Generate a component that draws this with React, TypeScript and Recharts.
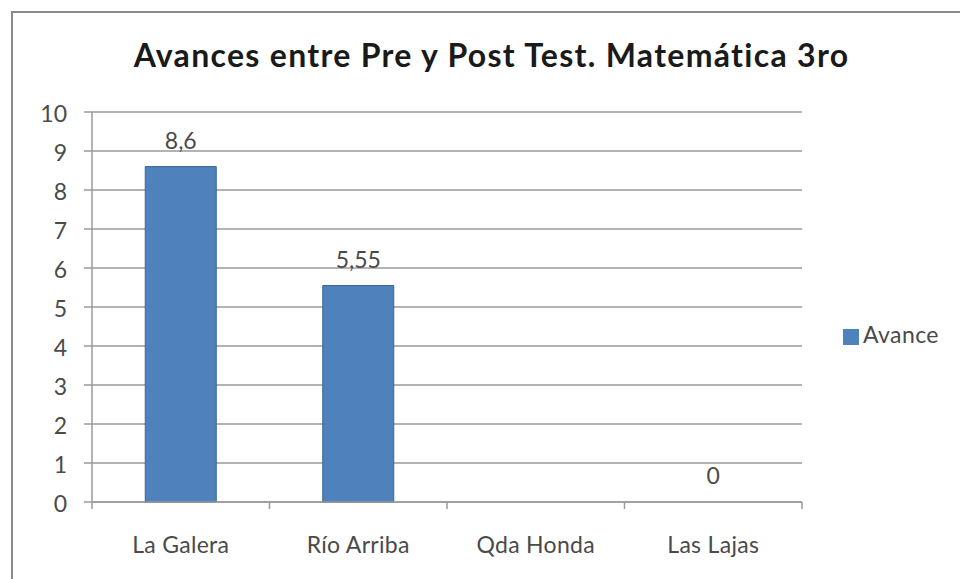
import { BarChart, Bar, XAxis, YAxis, CartesianGrid, Legend, ReferenceDot } from 'recharts';

const schools = ['La Galera', 'Río Arriba', 'Qda Honda', 'Las Lajas'];
const avance: (number | null)[] = [8.6, 5.55, null, 0];
const yTicks = [0, 1, 2, 3, 4, 5, 6, 7, 8, 9, 10];

const rows = schools.map((school, i) => ({ school, avance: avance[i] }));

const FONT = 'Lato, "Open Sans", sans-serif';
const INK = '#4a4a4a';
const GRID = '#9a9a9a';
const PLOT_WIDTH = 710;
const BAND = PLOT_WIDTH / schools.length;

const decimalComma = (v: unknown) => (v == null ? '' : String(v).replace('.', ','));

// category label plus the small tick marks that sit on the band edges
function SchoolTick({ x, y, payload, index }: any) {
  const left = x - BAND / 2;
  const right = x + BAND / 2;
  return (
    <g>
      <line x1={left} x2={left} y1={y} y2={y + 7} stroke={GRID} strokeWidth={1.5} />
      {index === schools.length - 1 && (
        <line x1={right} x2={right} y1={y} y2={y + 7} stroke={GRID} strokeWidth={1.5} />
      )}
      <text x={x} y={y + 51} textAnchor="middle" fill={INK} fontSize={23} letterSpacing={0.3} fontFamily={FONT}>
        {payload.value}
      </text>
    </g>
  );
}

export default function App() {
  return (
    <div style={{ position: 'absolute', left: 0, top: 0, width: 960, height: 579, background: '#fff', overflow: 'hidden' }}>
      <div
        style={{
          position: 'absolute',
          left: 11,
          top: 11,
          width: 1000,
          height: 1000,
          border: '2px solid #8a8a8a',
        }}
      />
      <div
        style={{
          position: 'absolute',
          left: 0,
          width: 983,
          top: 35,
          textAlign: 'center',
          fontFamily: FONT,
          fontWeight: 700,
          fontSize: 32,
          letterSpacing: 1.3,
          color: '#1a1a1a',
          whiteSpace: 'nowrap',
        }}
      >
        Avances entre Pre y Post Test. Matemática 3ro
      </div>
      <BarChart
        width={960}
        height={579}
        data={rows}
        margin={{ top: 112, right: 38, bottom: 47, left: 0 }}
        barCategoryGap="30%"
        style={{ position: 'absolute', left: 0, top: 0 }}
      >
        <CartesianGrid vertical={false} stroke={GRID} strokeWidth={1.5} />
        <XAxis
          dataKey="school"
          axisLine={{ stroke: GRID, strokeWidth: 1.5 }}
          tickLine={false}
          tickSize={0}
          tickMargin={0}
          interval={0}
          height={30}
          tick={<SchoolTick />}
        />
        <YAxis
          width={92}
          domain={[0, 10]}
          ticks={yTicks}
          interval={0}
          axisLine={{ stroke: GRID, strokeWidth: 1.5 }}
          tickLine={{ stroke: GRID, strokeWidth: 1.5 }}
          tickSize={8}
          tickMargin={17}
          tick={{ fill: INK, fontSize: 23, fontFamily: FONT, dy: 2 }}
        />
        <Legend
          layout="vertical"
          align="right"
          verticalAlign="middle"
          width={120}
          iconType="square"
          iconSize={16}
          wrapperStyle={{ top: 320, left: 843, right: 'auto', fontFamily: FONT, fontSize: 23, letterSpacing: 0.4 }}
          formatter={(value) => <span style={{ color: INK }}>{value}</span>}
        />
        <Bar dataKey="avance" name="Avance" fill="#4f81bd" stroke="#3a6494" strokeWidth={1} isAnimationActive={false} />
        {/* value labels, drawn from the same rows so the zero value gets one too */}
        {rows
          .filter((r) => r.avance != null)
          .map((r) => (
            <ReferenceDot
              key={r.school}
              x={r.school}
              y={r.avance as number}
              r={0}
              fill="none"
              stroke="none"
              ifOverflow="visible"
              label={{
                value: decimalComma(r.avance),
                position: 'top',
                offset: 18,
                fill: INK,
                fontSize: 23,
                fontFamily: FONT,
              }}
            />
          ))}
      </BarChart>
    </div>
  );
}
